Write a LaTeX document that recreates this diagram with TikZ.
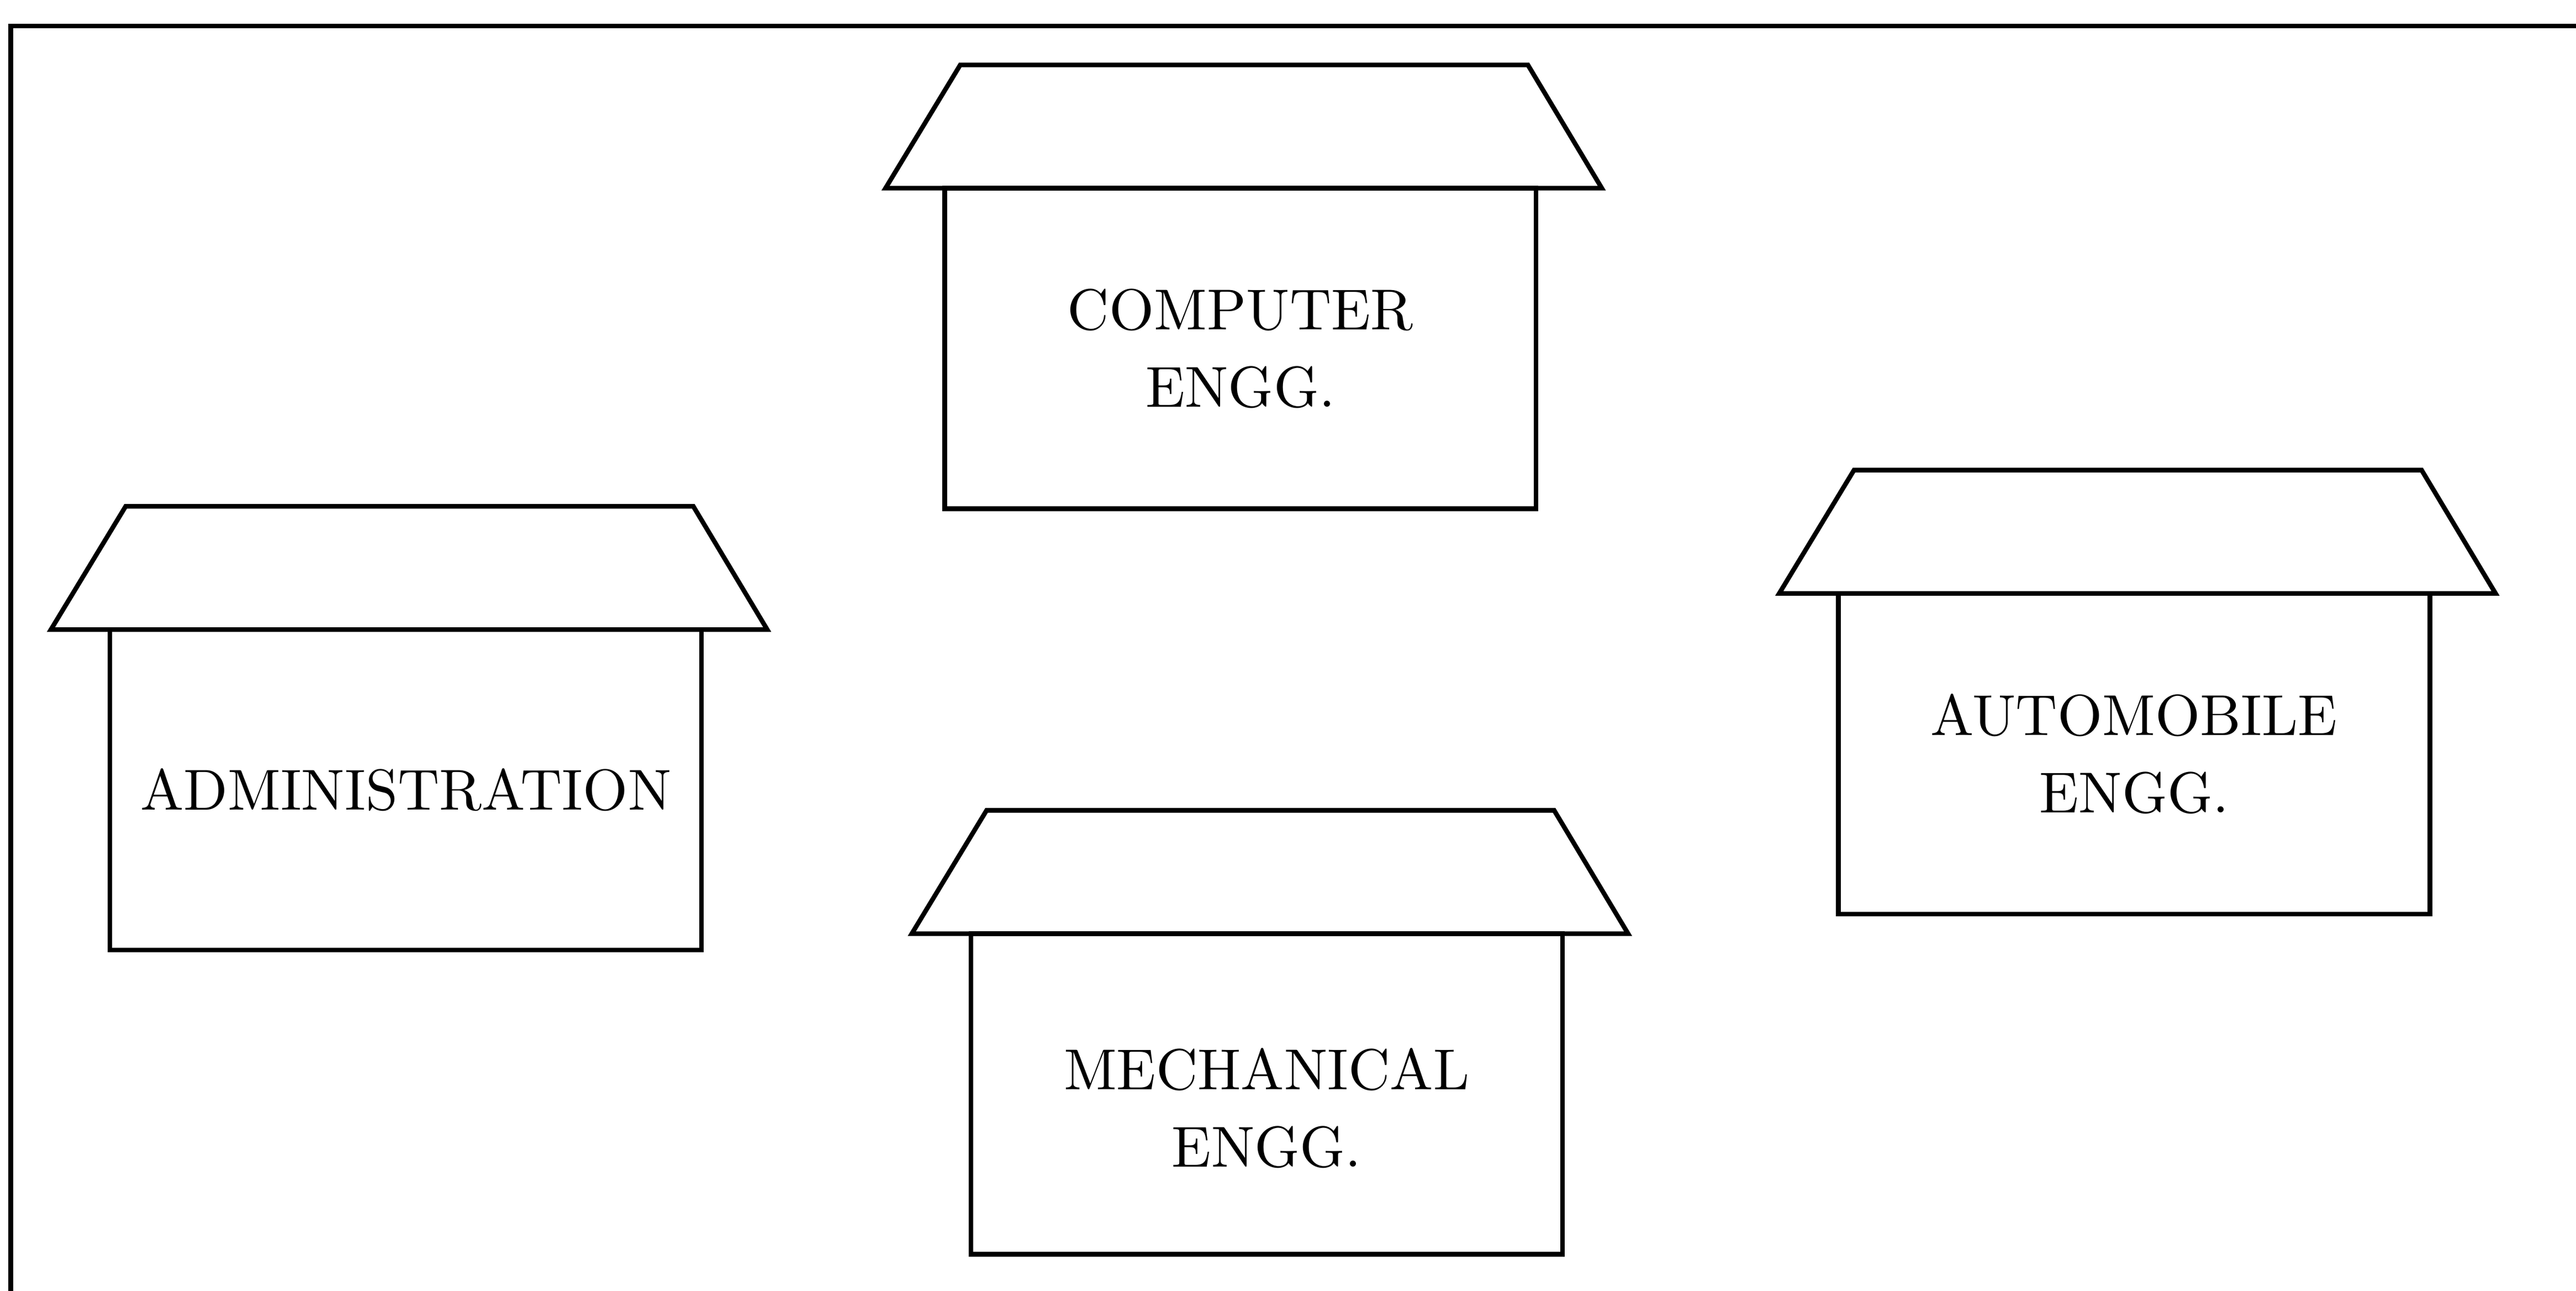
\documentclass[tikz,border=0pt]{standalone}
\usepackage{tikz}
\usetikzlibrary{positioning}

\tikzset{
  hall/.style={draw, line width=0.8pt, minimum width=3.6cm, minimum height=1.95cm,
    align=center, inner sep=0pt, outer sep=0pt, font=\fontsize{10}{13.4}\selectfont},
  roof/.style={draw, line width=0.8pt, line join=miter}
}

\begin{document}
\begin{tikzpicture}
  \useasboundingbox (0,0) rectangle (15.68,-7.853);
  \clip (0,0) rectangle (15.68,-7.853);
  % frame, only top and left visible
  \draw[line width=0.85pt] (0.067,-0.158) rectangle (16.5,-8.5);

  \node[hall] (cmp) at (7.55,-2.12) {COMPUTER\\ENGG.};
  \node[hall] (adm) at (2.47,-4.805) {ADMINISTRATION};
  \node[hall] (aut) at (12.99,-4.585) {AUTOMOBILE\\ENGG.};
  \node[hall] (mec) at (7.71,-6.655) {\rule{0pt}{12pt}MECHANICAL\\ENGG.};

  % roofs
  \foreach \h in {cmp,adm,aut,mec}
    \draw[roof] ([xshift=-0.36cm]\h.north west) -- ([xshift=0.095cm,yshift=0.75cm]\h.north west)
      -- ([xshift=-0.05cm,yshift=0.75cm]\h.north east) -- ([xshift=0.4cm]\h.north east) -- cycle;
\end{tikzpicture}
\end{document}
